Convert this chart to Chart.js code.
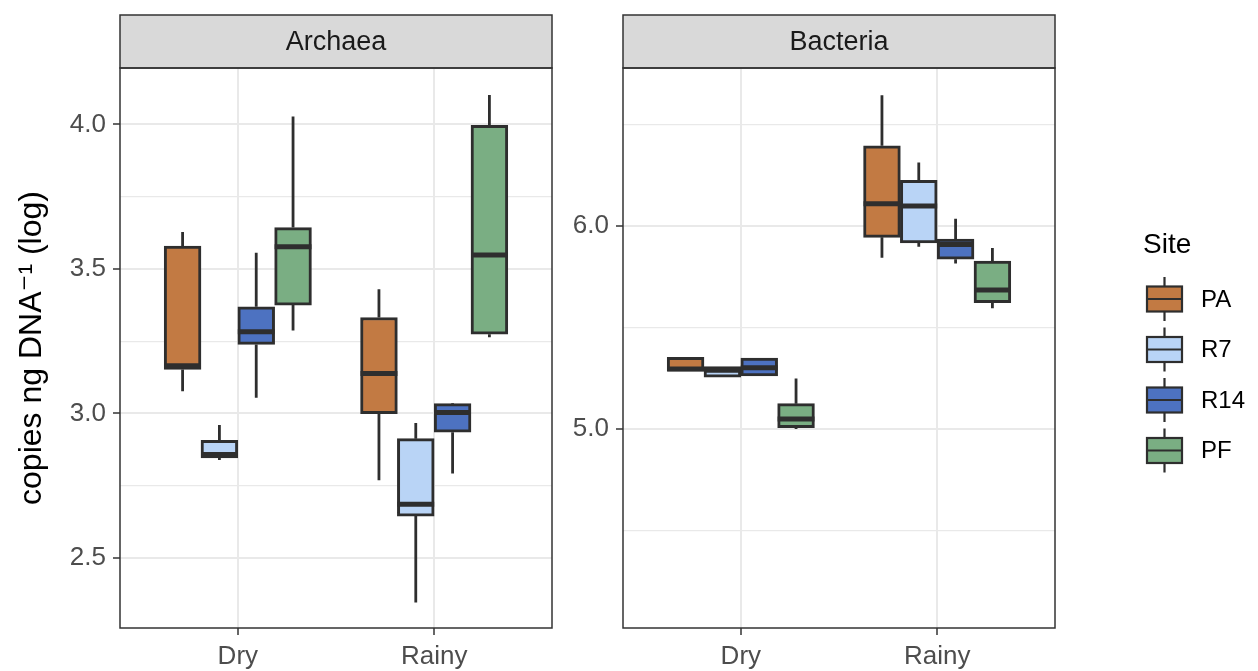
<!DOCTYPE html>
<html>
<head>
<meta charset="utf-8">
<script src="https://cdn.jsdelivr.net/npm/chart.js@4.4.1/dist/chart.umd.min.js"></script>
<style>
  html, body { margin: 0; padding: 0; background: #ffffff; }
  #wrap { position: relative; width: 1258px; height: 671px; overflow: hidden; background: #ffffff; }
  canvas { position: absolute; top: 0; }
  #archaea { left: 0; }
  #bacteria { left: 560px; }
</style>
</head>
<body>
<div id="wrap">
  <canvas id="archaea" width="560" height="671"></canvas>
  <canvas id="bacteria" width="698" height="671"></canvas>
</div>
<script>
// Seasons on the x axis and sampling sites in each group
const categories = ['Dry', 'Rainy'];
const sites = ['PA', 'R7', 'R14', 'PF'];
const siteColors = ['#c27a43', '#b9d4f6', '#4d72c1', '#7aae83'];

// Five-number summaries per season: [lower whisker, Q1, median, Q3, upper whisker]
const archaeaPA  = [[3.077, 3.152, 3.165, 3.579, 3.628], [2.769, 2.999, 3.138, 3.332, 3.430]];
const archaeaR7  = [[2.839, 2.846, 2.858, 2.907, 2.960], [2.346, 2.645, 2.686, 2.913, 2.967]];
const archaeaR14 = [[3.054, 3.239, 3.283, 3.369, 3.556], [2.792, 2.935, 3.003, 3.034, 3.036]];
const archaeaPF  = [[3.287, 3.375, 3.577, 3.643, 4.027], [3.264, 3.274, 3.548, 3.997, 4.102]];

const bacteriaPA  = [[5.285, 5.285, 5.296, 5.353, 5.353], [5.844, 5.944, 6.109, 6.395, 6.644]];
const bacteriaR7  = [[5.255, 5.255, 5.289, 5.307, 5.307], [5.898, 5.916, 6.098, 6.225, 6.313]];
const bacteriaR14 = [[5.262, 5.262, 5.302, 5.349, 5.349], [5.815, 5.836, 5.909, 5.936, 6.036]];
const bacteriaPF  = [[5.000, 5.007, 5.049, 5.125, 5.249], [5.595, 5.622, 5.685, 5.827, 5.891]];

// Y axis breaks: labelled majors and unlabelled minors
const archaeaMajor = [2.5, 3.0, 3.5, 4.0];
const archaeaMinor = [2.75, 3.25, 3.75];
const bacteriaMajor = [5.0, 6.0];
const bacteriaMinor = [4.5, 5.5, 6.5];

const FONT = '"Liberation Sans", Arial, "DejaVu Sans", sans-serif';
const INK = '#2e2e2e';
const GRID = '#e9e9e9';
const DODGE = 0.75;               // total dodge width shared by the four sites
const BOX = DODGE / sites.length; // width of one box in category units

function boxDatasets(series) {
  return series.map((rows, j) => ({
    label: sites[j],
    backgroundColor: siteColors[j],
    borderColor: INK,
    borderWidth: 3,
    borderSkipped: false,
    grouped: false,
    categoryPercentage: 1,
    barPercentage: 1,
    data: rows.map((s, i) => ({
      x: i + 1 + (j - (sites.length - 1) / 2) * BOX,
      y: [s[1], s[3]],
      stats: s
    }))
  }));
}

// Whiskers behind the boxes, medians on top
const boxParts = {
  id: 'boxParts',
  beforeDatasetsDraw(chart) {
    const ctx = chart.ctx, y = chart.scales.y;
    ctx.save();
    ctx.strokeStyle = INK;
    ctx.lineWidth = 2.8;
    ctx.lineCap = 'butt';
    chart.data.datasets.forEach((ds, d) => {
      chart.getDatasetMeta(d).data.forEach((el, i) => {
        const s = ds.data[i].stats;
        ctx.beginPath();
        ctx.moveTo(el.x, y.getPixelForValue(s[0]));
        ctx.lineTo(el.x, y.getPixelForValue(s[1]));
        ctx.moveTo(el.x, y.getPixelForValue(s[3]));
        ctx.lineTo(el.x, y.getPixelForValue(s[4]));
        ctx.stroke();
      });
    });
    ctx.restore();
  },
  afterDatasetsDraw(chart) {
    const ctx = chart.ctx, y = chart.scales.y;
    ctx.save();
    ctx.strokeStyle = INK;
    ctx.lineWidth = 5;
    chart.data.datasets.forEach((ds, d) => {
      chart.getDatasetMeta(d).data.forEach((el, i) => {
        const s = ds.data[i].stats;
        const py = y.getPixelForValue(s[2]);
        ctx.beginPath();
        ctx.moveTo(el.x - el.width / 2, py);
        ctx.lineTo(el.x + el.width / 2, py);
        ctx.stroke();
      });
    });
    ctx.restore();
  }
};

// Facet strip above the panel and the panel border
const panelFrame = {
  id: 'panelFrame',
  afterDraw(chart, args, opts) {
    const ctx = chart.ctx, a = chart.chartArea;
    ctx.save();
    ctx.fillStyle = '#d9d9d9';
    ctx.fillRect(a.left, opts.stripTop, a.right - a.left, a.top - opts.stripTop);
    ctx.strokeStyle = '#333333';
    ctx.lineWidth = 1.5;
    ctx.strokeRect(a.left, opts.stripTop, a.right - a.left, a.top - opts.stripTop);
    ctx.strokeRect(a.left, a.top, a.right - a.left, a.bottom - a.top);
    ctx.fillStyle = '#1a1a1a';
    ctx.font = '27px ' + FONT;
    ctx.textAlign = 'center';
    ctx.textBaseline = 'middle';
    ctx.fillText(opts.text, (a.left + a.right) / 2, (opts.stripTop + a.top) / 2 + 1);
    ctx.restore();
  }
};

// Legend with boxplot key glyphs, placed to the right of the second panel
const siteLegend = {
  id: 'siteLegend',
  afterDraw(chart, args, opts) {
    if (!opts.show) return;
    const ctx = chart.ctx;
    ctx.save();
    ctx.fillStyle = '#000000';
    ctx.font = '28px ' + FONT;
    ctx.textAlign = 'left';
    ctx.textBaseline = 'middle';
    ctx.fillText('Site', opts.x - 4, opts.titleY);
    sites.forEach((name, j) => {
      const cy = opts.firstY + j * opts.step;
      const bx = opts.x, bw = 35, bh = 25;
      ctx.strokeStyle = INK;
      ctx.lineWidth = 2.2;
      ctx.beginPath();
      ctx.moveTo(bx + bw / 2, cy - 22); ctx.lineTo(bx + bw / 2, cy - bh / 2);
      ctx.moveTo(bx + bw / 2, cy + bh / 2); ctx.lineTo(bx + bw / 2, cy + 22);
      ctx.stroke();
      ctx.fillStyle = siteColors[j];
      ctx.fillRect(bx, cy - bh / 2, bw, bh);
      ctx.strokeRect(bx, cy - bh / 2, bw, bh);
      ctx.beginPath();
      ctx.moveTo(bx, cy); ctx.lineTo(bx + bw, cy);
      ctx.stroke();
      ctx.fillStyle = '#000000';
      ctx.font = '24px ' + FONT;
      ctx.fillText(name, bx + 54, cy + 1);
    });
    ctx.restore();
  }
};

function makePanel(canvasId, series, range, major, minor, cfg) {
  const ticks = major.concat(minor).sort((a, b) => a - b);
  const isMajor = v => major.some(m => Math.abs(m - v) < 1e-9);
  return new Chart(document.getElementById(canvasId), {
    type: 'bar',
    data: { datasets: boxDatasets(series) },
    plugins: [boxParts, panelFrame, siteLegend],
    options: {
      responsive: false,
      animation: false,
      events: [],
      layout: { padding: { left: 0, right: cfg.padRight, top: 68, bottom: 0 } },
      plugins: {
        legend: { display: false },
        tooltip: { enabled: false },
        panelFrame: { text: cfg.strip, stripTop: 15 },
        siteLegend: cfg.legend
      },
      scales: {
        x: {
          type: 'linear',
          offset: false,
          min: 0.4,
          max: categories.length + 0.6,
          afterBuildTicks: s => { s.ticks = categories.map((c, i) => ({ value: i + 1 })); },
          afterFit: s => { s.height = 43; },
          border: { display: false },
          grid: { offset: false, color: GRID, lineWidth: 2, tickColor: '#333333', tickWidth: 1.5, tickLength: 7 },
          ticks: {
            padding: 6,
            color: '#4d4d4d',
            font: { family: FONT, size: 26 },
            maxRotation: 0,
            autoSkip: false,
            callback: v => categories[Math.round(v) - 1]
          }
        },
        y: {
          type: 'linear',
          min: range[0],
          max: range[1],
          afterBuildTicks: s => { s.ticks = ticks.map(v => ({ value: v })); },
          afterFit: s => { s.width = cfg.axisWidth; },
          border: { display: false },
          grid: {
            color: GRID,
            lineWidth: c => (c.tick && isMajor(c.tick.value)) ? 2 : 1.3,
            tickColor: c => (c.tick && isMajor(c.tick.value)) ? '#333333' : 'rgba(0,0,0,0)',
            tickWidth: 1.5,
            tickLength: 7
          },
          ticks: {
            padding: 7,
            color: '#4d4d4d',
            font: { family: FONT, size: 26 },
            autoSkip: false,
            callback: v => isMajor(v) ? v.toFixed(1) : ''
          },
          title: cfg.title
        }
      }
    }
  });
}

makePanel('archaea', [archaeaPA, archaeaR7, archaeaR14, archaeaPF], [2.258, 4.195],
  archaeaMajor, archaeaMinor, {
    strip: 'Archaea',
    padRight: 8,
    axisWidth: 120,
    legend: { show: false },
    title: {
      display: true,
      text: 'copies ng DNA\u207B\u00B9 (log)',
      color: '#000000',
      font: { family: FONT, size: 32, lineHeight: 1.2 },
      padding: { top: 13, bottom: 0 }
    }
  });

makePanel('bacteria', [bacteriaPA, bacteriaR7, bacteriaR14, bacteriaPF], [4.02, 6.778],
  bacteriaMajor, bacteriaMinor, {
    strip: 'Bacteria',
    padRight: 203,
    axisWidth: 63,
    legend: { show: true, x: 587, titleY: 245, firstY: 299, step: 50.5 },
    title: { display: false }
  });
</script>
</body>
</html>
